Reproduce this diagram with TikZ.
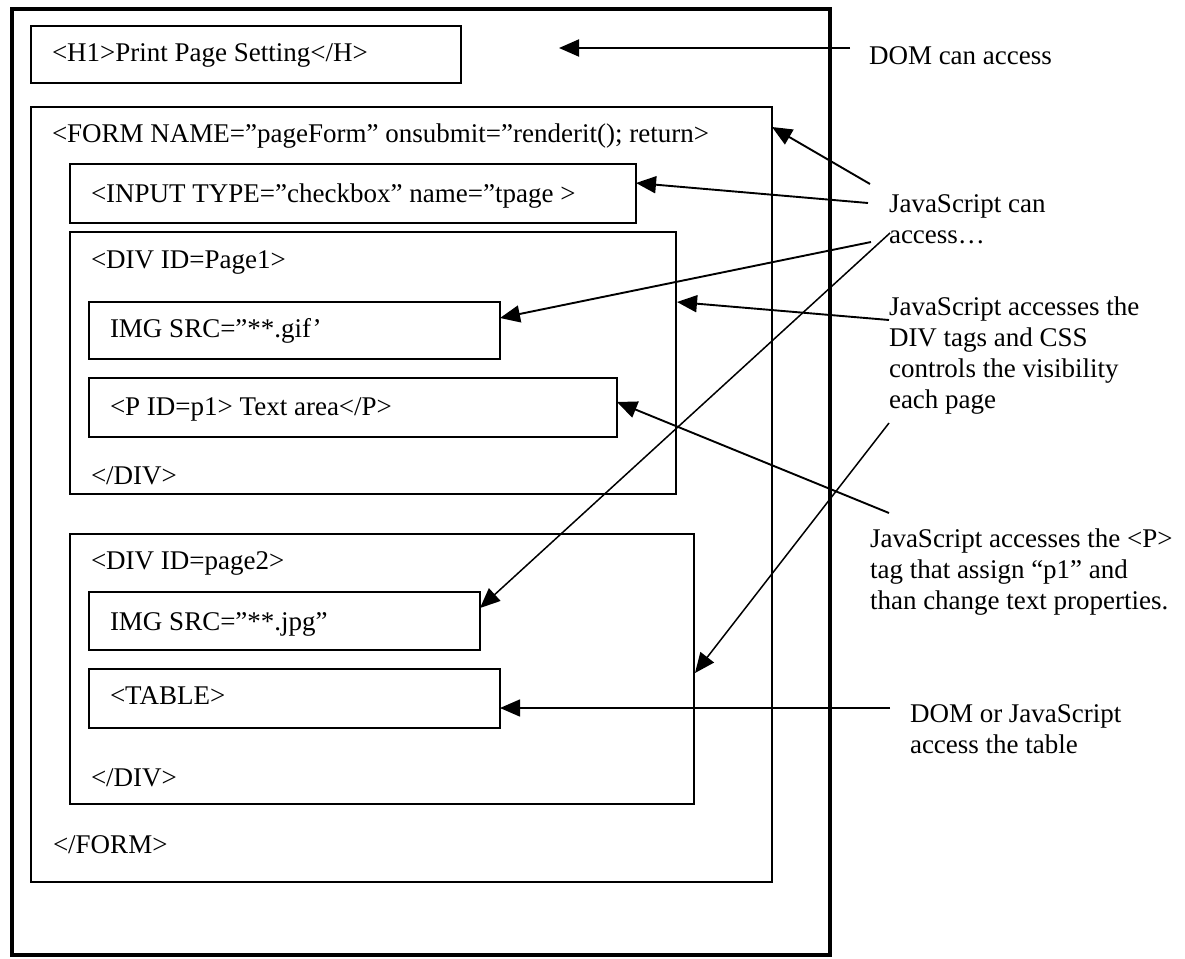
\documentclass[tikz,border=0pt]{standalone}
\usepackage{fontspec}
\setmainfont{Liberation Serif}
\usetikzlibrary{arrows.meta,calc}
\tikzset{
  box/.style={draw, line width=2.2pt, inner sep=0pt, outer sep=0pt, anchor=north west},
  lbl/.style={inner sep=0pt, outer sep=0pt, anchor=base west, font=\fontsize{27}{31}\selectfont},
  note/.style={lbl, align=left},
  arr/.style={line width=1.9pt, -{Triangle[length=20pt,width=17pt]}},
  thinarr/.style={arr, line width=1.5pt},
}
\begin{document}
\begin{tikzpicture}[x=1pt,y=-1pt]
\useasboundingbox (0,0) rectangle (1185,958);
\fill[white] (0,0) rectangle (1185,958);

% boxes
\node[box, line width=3.4pt, minimum width=818pt, minimum height=946pt] (outer) at (12,9) {};
\node[box, minimum width=430pt, minimum height=57pt] (h1) at (31,26) {};
\node[box, minimum width=741pt, minimum height=775pt] (form) at (31,107) {};
\node[box, minimum width=566pt, minimum height=59pt] (input) at (70,164) {};
\node[box, minimum width=606pt, minimum height=262pt] (div1) at (70,232) {};
\node[box, minimum width=411pt, minimum height=57pt] (imggif) at (89,302) {};
\node[box, minimum width=528pt, minimum height=59pt] (ptag) at (89,378) {};
\node[box, minimum width=624pt, minimum height=270pt] (div2) at (70,534) {};
\node[box, minimum width=391pt, minimum height=58pt] (imgjpg) at (89,592) {};
\node[box, minimum width=411pt, minimum height=59pt] (table) at (89,669) {};

% box texts
\node[lbl] (h1t) at (52,62) {<H1>Print Page Setting</H>};
\node[lbl] (formt) at (52,142) {<FORM NAME=”pageForm” onsubmit=”renderit(); return>};
\node[lbl] (inputt) at (91,202) {<INPUT TYPE=”checkbox” name=”tpage >};
\node[lbl] (div1t) at (91,268) {<DIV ID=Page1>};
\node[lbl] (gift) at (110,337) {IMG SRC=”**.gif’};
\node[lbl] (pt) at (110,415) {<P ID=p1> Text area</P>};
\node[lbl] (div1c) at (91,484) {</DIV>};
\node[lbl] (div2t) at (91,569) {<DIV ID=page2>};
\node[lbl] (jpgt) at (110,630) {IMG SRC=”**.jpg”};
\node[lbl] (tablet) at (110,704) {<TABLE>};
\node[lbl] (div2c) at (91,786) {</DIV>};
\node[lbl] (formc) at (53,853) {</FORM>};

% right labels (base anchor = baseline of the last line)
\node[lbl] (dom) at (869,64) {DOM can access};
\node[note] (jscan) at (889,243) {JavaScript can\\access…};
\node[note] (jsdiv) at (889,408) {JavaScript accesses the\\DIV tags and CSS\\controls the visibility\\each page};
\node[note] (jsp) at (870,609) {JavaScript accesses the <P>\\tag that assign “p1” and\\than change text properties.};
\node[note] (domtab) at (910,753) {DOM or JavaScript\\access the table};

% free ends
\coordinate (domS) at (850,48);
\coordinate (domT) at (559,48);
\coordinate (formS) at (870,184);
\coordinate (inputS) at (868,203);
\coordinate (gifS) at (871,242);
\coordinate (jpgS) at (890,233);
\coordinate (div1S) at (889,320);
\coordinate (pS) at (889,513);
\coordinate (div2S) at (889,423);
\coordinate (tableS) at (890,708);

% connectors
\draw[arr] (domS) -- (domT);
\draw[arr] (formS) -- ($(form.north east)+(0,20)$);
\draw[arr] (inputS) -- ($(input.east)+(0,-10.5)$);
\draw[arr] (gifS) -- ($(imggif.east)+(0,-12.5)$);
\draw[thinarr] (jpgS) -- ($(imgjpg.east)+(0,-13)$);
\draw[arr] (div1S) -- ($(div1.north east)+(1,70)$);
\draw[arr] (pS) -- ($(ptag.east)+(0,-5.5)$);
\draw[thinarr] (div2S) -- ($(div2.north east)+(1,139)$);
\draw[thinarr] (tableS) -- ($(table.east)+(0,9.5)$);
\end{tikzpicture}
\end{document}
